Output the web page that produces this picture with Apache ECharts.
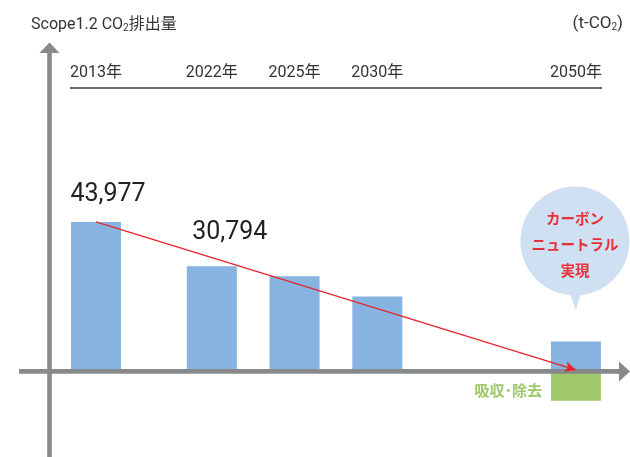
<!DOCTYPE html>
<html>
<head>
<meta charset="utf-8">
<script src="https://cdn.jsdelivr.net/npm/echarts@6/dist/echarts.min.js"></script>
<style>
  html, body { margin: 0; padding: 0; background: #fff; }
  #chart { width: 630px; height: 457px; }
</style>
</head>
<body>
<div id="chart"></div>
<script>
// Category slots along the time axis; blank slots keep the uneven year spacing.
const tickLabels = [
  '2013年', '', '', '', '', '', '',
  '2022年', '', '', '', '',
  '2025年', '', '', '', '',
  '2030年', '', '', '', '', '', '', '', '', '', '', '',
  '2050年'
];

// Scope1.2 CO2 emissions (t-CO2)
const years = ['2013年', '2022年', '2025年', '2030年', '2050年'];
const emissions = [43977, 30794, 27800, 21800, 8400];
// Absorption / removal in 2050 (t-CO2)
const removals = [null, null, null, null, -9200];

const labeledYears = ['2013年', '2022年'];

const BLUE = '#86b3e0';
const GREEN = '#a2c86e';
const AXIS_GRAY = '#88898b';
const RED = '#e8232c';
const TEXT = '#333333';

const chart = echarts.init(document.getElementById('chart'), null, { renderer: 'canvas' });

const valueLabelStyle = {
  '2013年': { offset: [12, -10] },
  '2022年': { offset: [18, -16] }
};

const emissionData = tickLabels.map(t => {
  const i = years.indexOf(t);
  if (i < 0) return null;
  const v = emissions[i];
  if (labeledYears.indexOf(t) >= 0) {
    return {
      value: v,
      label: {
        show: true,
        position: 'top',
        distance: 5,
        offset: valueLabelStyle[t].offset,
        formatter: () => v.toLocaleString('en-US'),
        fontSize: 25,
        fontFamily: 'Roboto, sans-serif',
        color: '#222'
      }
    };
  }
  return v;
});

const removalData = tickLabels.map(t => {
  const i = years.indexOf(t);
  if (i < 0 || removals[i] == null) return null;
  return {
    value: removals[i],
    label: {
      show: true,
      position: 'left',
      distance: 9,
      offset: [0, 5],
      formatter: '吸収･除去',
      fontSize: 15,
      fontWeight: 'bold',
      fontFamily: '"Noto Sans CJK JP", sans-serif',
      color: '#9ec66b'
    }
  };
});

const firstIdx = tickLabels.indexOf(years[0]);
const lastIdx = tickLabels.indexOf(years[years.length - 1]);

const subRich = { s: { fontSize: 10, verticalAlign: 'bottom', color: TEXT, padding: [6, 0, 0, 0] } };

chart.setOption({
  animation: false,
  textStyle: { fontFamily: 'Roboto, "Noto Sans CJK JP", sans-serif' },
  title: [
    {
      text: 'Scope1.2 CO{s|2}排出量',
      left: 26,
      top: 12,
      textStyle: {
        fontSize: 16,
        fontWeight: 'normal',
        color: TEXT,
        fontFamily: 'Roboto, "Noto Sans CJK JP", sans-serif',
        rich: subRich
      }
    },
    {
      text: '(t-CO{s|2})',
      right: 2,
      top: 10,
      textStyle: {
        fontSize: 17,
        fontWeight: 'normal',
        color: TEXT,
        fontFamily: 'Roboto, sans-serif',
        rich: subRich
      }
    }
  ],
  grid: { left: 87.7, width: 496.5, top: 168, height: 286 },
  xAxis: [
    {
      type: 'category',
      data: tickLabels,
      position: 'bottom',
      axisLine: { show: false },
      axisTick: { show: false },
      axisLabel: { show: false },
      splitLine: { show: false }
    },
    {
      type: 'category',
      data: tickLabels,
      position: 'top',
      offset: 80,
      axisLine: { show: false },
      axisTick: { show: false },
      splitLine: { show: false },
      axisLabel: { interval: 0, margin: 7, fontSize: 16, color: TEXT, fontFamily: 'Roboto, "Noto Sans CJK JP", sans-serif' }
    }
  ],
  yAxis: {
    type: 'value',
    min: -25000,
    max: 60000,
    axisLine: { show: false },
    axisTick: { show: false },
    axisLabel: { show: false },
    splitLine: { show: false }
  },
  series: [
    {
      type: 'bar',
      name: '排出量',
      data: emissionData,
      barWidth: 50,
      barGap: '-100%',
      clip: false,
      itemStyle: { color: BLUE },
      z: 2,
      markLine: {
        silent: true,
        symbol: ['none', 'arrow'],
        symbolSize: [8, 11],
        label: { show: false },
        lineStyle: { color: RED, width: 1.3, type: 'solid' },
        data: [[
          { coord: [firstIdx, emissions[0]] },
          { coord: [lastIdx, 0] }
        ]]
      }
    },
    {
      type: 'bar',
      name: '吸収･除去',
      data: removalData,
      barWidth: 50,
      barGap: '-100%',
      clip: false,
      itemStyle: { color: GREEN },
      z: 2
    }
  ]
});

// Axis arrows, header rule and the speech bubble, placed from the chart's own scales.
const zeroY = chart.convertToPixel({ yAxisIndex: 0 }, 0);
const bx = chart.convertToPixel({ xAxisIndex: 0 }, lastIdx);
const axisX = 49.5;

chart.setOption({
  graphic: [
    { type: 'rect', z: 3, shape: { x: axisX - 2.3, y: 52, width: 4.6, height: 460 }, style: { fill: AXIS_GRAY } },
    { type: 'polygon', z: 3, shape: { points: [[axisX - 10, 53], [axisX + 10, 53], [axisX, 42.5]] }, style: { fill: AXIS_GRAY } },
    { type: 'rect', z: 3, shape: { x: 19, y: zeroY - 0.8, width: 601, height: 4.6 }, style: { fill: AXIS_GRAY } },
    { type: 'polygon', z: 3, shape: { points: [[619, zeroY - 8.5], [619, zeroY + 11.5], [630, zeroY + 1.5]] }, style: { fill: AXIS_GRAY } },
    { type: 'line', z: 3, shape: { x1: 70, y1: 88, x2: 602, y2: 88 }, style: { stroke: '#3a3a3a', lineWidth: 1.5 } },
    { type: 'circle', z: 3, shape: { cx: bx - 1, cy: 241, r: 54.5 }, style: { fill: '#cfe0f2' } },
    { type: 'polygon', z: 3, shape: { points: [[bx - 8, 288], [bx + 7, 288], [bx, 310]] }, style: { fill: '#cfe0f2' } },
    {
      type: 'text', z: 4, x: bx - 1, y: 244,
      style: {
        text: 'カーボン\nニュートラル\n実現',
        align: 'center',
        verticalAlign: 'middle',
        fontSize: 14.5,
        lineHeight: 26,
        fontWeight: 'bold',
        fontFamily: '"Noto Sans CJK JP", sans-serif',
        fill: '#e8303a'
      }
    }
  ]
});
</script>
</body>
</html>
